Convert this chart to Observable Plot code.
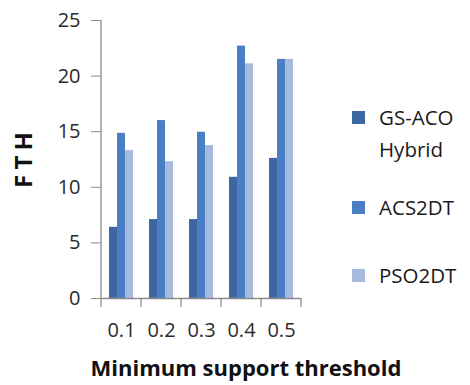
<!DOCTYPE html>
<html>
<head>
<meta charset="utf-8">
<script src="https://cdn.jsdelivr.net/npm/d3@7"></script>
<script src="https://cdn.jsdelivr.net/npm/@observablehq/plot@0.6"></script>
<style>
  html, body { margin: 0; padding: 0; background: #fff; }
  #wrap { position: relative; width: 470px; height: 385px; font-family: "Open Sans", sans-serif; overflow: hidden; }
  #ylab { position: absolute; left: 22px; top: 160px; transform: translate(-50%, -50%) rotate(-90deg); font-weight: bold; font-size: 24px; word-spacing: -1px; color: #111; white-space: nowrap; }
  #xlab { position: absolute; left: 0; width: 492px; top: 352px; text-align: center; font-weight: bold; font-size: 22px; color: #111; white-space: nowrap; }
  #legend { position: absolute; left: 352px; top: 101px; font-size: 20.5px; color: #1a1a1a; line-height: 32px; }
  .item { display: flex; align-items: flex-start; }
  .sw { width: 13px; height: 13px; margin-top: 10px; margin-right: 14px; flex: none; }
</style>
</head>
<body>
<div id="wrap">
  <div id="chart"></div>
  <div id="ylab"></div>
  <div id="xlab"></div>
  <div id="legend"></div>
</div>
<script>
const thresholds = ["0.1", "0.2", "0.3", "0.4", "0.5"];
const series = ["GS-ACO Hybrid", "ACS2DT", "PSO2DT"];
const gsaco = [6.4, 7.1, 7.1, 10.9, 12.6];
const acs2dt = [14.85, 16.0, 14.95, 22.7, 21.5];
const pso2dt = [13.3, 12.3, 13.75, 21.1, 21.5];
const colors = ["#3d67a3", "#4a7ec5", "#a7bade"];
const yTicks = [0, 5, 10, 15, 20, 25];
const yLabel = "F T H";
const xLabel = "Minimum support threshold";

const valuesBySeries = [gsaco, acs2dt, pso2dt];
const data = [];
thresholds.forEach((t, i) => series.forEach((s, j) => data.push({t, s, v: valuesBySeries[j][i]})));

const plot = Plot.plot({
  width: 470,
  height: 385,
  marginLeft: 99,
  marginRight: 167,
  marginTop: 20,
  marginBottom: 87,
  style: {fontFamily: "Open Sans, sans-serif", background: "#fff"},
  fx: {domain: thresholds, padding: 0, label: null},
  x: {domain: series, paddingInner: 0, paddingOuter: 0.85, axis: null},
  y: {domain: [0, 25], axis: null},
  color: {domain: series, range: colors},
  marks: [
    Plot.barY(data, {fx: "t", x: "s", y: "v", fill: "s"}),
    Plot.ruleY([0], {stroke: "#8c8c8c", strokeWidth: 1.3}),
    Plot.axisY({ticks: yTicks, tickSize: 10, tickPadding: 11, fontSize: 20, color: "#2a2a2a", stroke: "#8c8c8c", label: null}),
    Plot.axisFx({anchor: "bottom", tickSize: 0, tickPadding: 24, fontSize: 20, color: "#2a2a2a", label: null})
  ]
});
document.getElementById("chart").appendChild(plot);

// axis line and category boundary ticks, positioned via Plot's scales
const fx = plot.scale("fx");
const y = plot.scale("y");
const svg = d3.select(plot);
const bw = fx.bandwidth;
const g = svg.append("g").attr("stroke", "#8c8c8c").attr("stroke-width", 1.3);
const left = fx.apply(thresholds[0]);
g.append("line").attr("x1", left).attr("x2", left).attr("y1", y.apply(25)).attr("y2", y.apply(0));
const bounds = thresholds.map(t => fx.apply(t)).concat([fx.apply(thresholds[thresholds.length - 1]) + bw]);
bounds.forEach(b => {
  g.append("line").attr("x1", b).attr("x2", b).attr("y1", y.apply(0)).attr("y2", y.apply(0) + 9);
});

document.getElementById("ylab").textContent = yLabel;
document.getElementById("xlab").textContent = xLabel;
const legend = document.getElementById("legend");
const legendGaps = [0, 26, 36];
const legendLines = [["GS-ACO", "Hybrid"], ["ACS2DT"], ["PSO2DT"]];
series.forEach((s, i) => {
  const item = document.createElement("div");
  item.className = "item";
  item.style.marginTop = legendGaps[i] + "px";
  const sw = document.createElement("div");
  sw.className = "sw";
  sw.style.background = colors[i];
  const tx = document.createElement("div");
  tx.innerHTML = legendLines[i].join("<br>");
  item.appendChild(sw);
  item.appendChild(tx);
  legend.appendChild(item);
});
</script>
</body>
</html>
